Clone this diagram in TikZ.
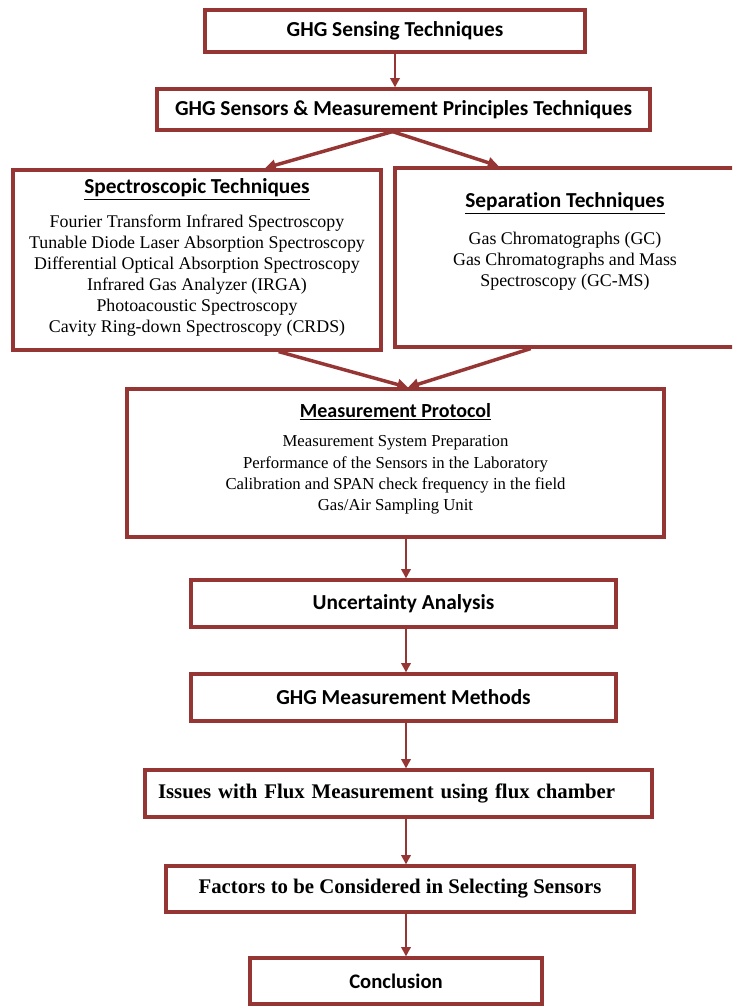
\documentclass[tikz,border=0pt]{standalone}
\usepackage{fontspec}
\setmainfont{Liberation Serif}
\newfontfamily\calibri[Ligatures=NoCommon]{Carlito}
\usetikzlibrary{arrows.meta, positioning, calc}
\definecolor{boxred}{RGB}{150, 54, 52}

\tikzset{
  frame/.style={draw=boxred, line width=2.4pt, inner sep=0pt},
  head/.style={font=\calibri\bfseries\fontsize{16}{19}\selectfont},
  boldserif/.style={font=\bfseries\fontsize{15.6}{18}\selectfont},
  body/.style={font=\fontsize{13.4}{15.75}\selectfont, align=center, inner sep=0pt},
  link/.style={draw=boxred, line width=2pt, -{Triangle[length=7pt,width=7pt]}},
  fork/.style={draw=boxred, line width=2.6pt, -{Triangle[length=8pt,width=8pt]}},
}

\begin{document}
\begin{tikzpicture}[x=0.75pt, y=-0.75pt]
  \useasboundingbox (0,0) rectangle (732,1006);
  \clip (0,0) rectangle (732,1006);

  % Top of the chart
  \node[frame, head, minimum width=285pt, minimum height=31.5pt] (sensing) at (395,31) {GHG Sensing Techniques};
  \node[frame, head, minimum width=369.75pt, minimum height=30.75pt] (principles) at (403.5,109.5) {GHG Sensors \& Measurement Principles Techniques};

  % Two families of techniques
  \node[frame, minimum width=276pt, minimum height=135pt] (spec) at (197,260) {};
  \node[head, inner sep=0pt, below=7.5pt of spec.north] (spectitle) {\underline{Spectroscopic Techniques}};
  \node[body, below=11pt of spectitle] (speclist) {
    Fourier Transform Infrared Spectroscopy\\
    Tunable Diode Laser Absorption Spectroscopy\\
    Differential Optical Absorption Spectroscopy\\
    Infrared Gas Analyzer (IRGA)\\
    Photoacoustic Spectroscopy\\
    Cavity Ring-down Spectroscopy (CRDS)
  };

  \node[frame, minimum width=255pt, minimum height=134.25pt] (sep) at (565,257.5) {};
  \node[head, inner sep=0pt, below=19.5pt of sep.north] (septitle) {\underline{Separation Techniques}};
  \node[body, font=\fontsize{13.4}{15.6}\selectfont, below=13.5pt of septitle] (seplist) {
    Gas Chromatographs (GC)\\
    Gas Chromatographs and Mass\\
    Spectroscopy (GC-MS)
  };

  % Protocol
  \node[frame, minimum width=402.75pt, minimum height=111pt] (protocol) at (395.5,463) {};
  \node[head, font=\calibri\bfseries\fontsize{15}{18}\selectfont, inner sep=0pt, below=12pt of protocol.north] (prottitle) {\underline{Measurement Protocol}};
  \node[body, font=\fontsize{12.55}{16}\selectfont, below=11pt of prottitle] (protlist) {
    Measurement System Preparation\\
    Performance of the Sensors in the Laboratory\\
    Calibration and SPAN check frequency in the field\\
    Gas/Air Sampling Unit
  };

  % Lower chain
  \node[frame, head, minimum width=318.75pt, minimum height=35.25pt] (uncert) at (403.5,603.5) {Uncertainty Analysis};
  \node[frame, head, minimum width=318.75pt, minimum height=35.25pt] (methods) at (403.5,697.5) {GHG Measurement Methods};
  \node[frame, boldserif, inner xsep=9.75pt, text width=360.75pt, align=left, minimum height=35.25pt] (issues) at (398.5,793.5) {Issues with Flux Measurement using flux chamber};
  \node[frame, boldserif, minimum width=351pt, minimum height=34.5pt] (factors) at (400,889) {Factors to be Considered in Selecting Sensors};
  \node[frame, head, font=\calibri\bfseries\fontsize{15.5}{18}\selectfont, minimum width=219pt, minimum height=34.5pt] (conclusion) at (396,981) {Conclusion};

  % Connectors
  \draw[link] (sensing) -- (sensing |- principles.north);

  \coordinate (forkpt) at ($(principles.south)+(-11,0)$);
  \draw[fork, shorten >=1pt] (forkpt) -- ($(spec.north west)!0.68!(spec.north east)$);
  \draw[fork, shorten >=1pt] (forkpt) -- ($(sep.north west)!0.31!(sep.north east)$);

  \coordinate (merge) at ($(protocol.north)+(12.5,0)$);
  \draw[fork] ($(spec.south west)!0.72!(spec.south east)$) -- (merge);
  \draw[fork] ($(sep.south west)!0.40!(sep.south east)$) -- (merge);

  \coordinate (spine) at (406,0);
  \foreach \a/\b in {protocol/uncert, uncert/methods, methods/issues, issues/factors, factors/conclusion}
    \draw[link] (\a.south -| spine) -- (\b.north -| spine);
\end{tikzpicture}
\end{document}
